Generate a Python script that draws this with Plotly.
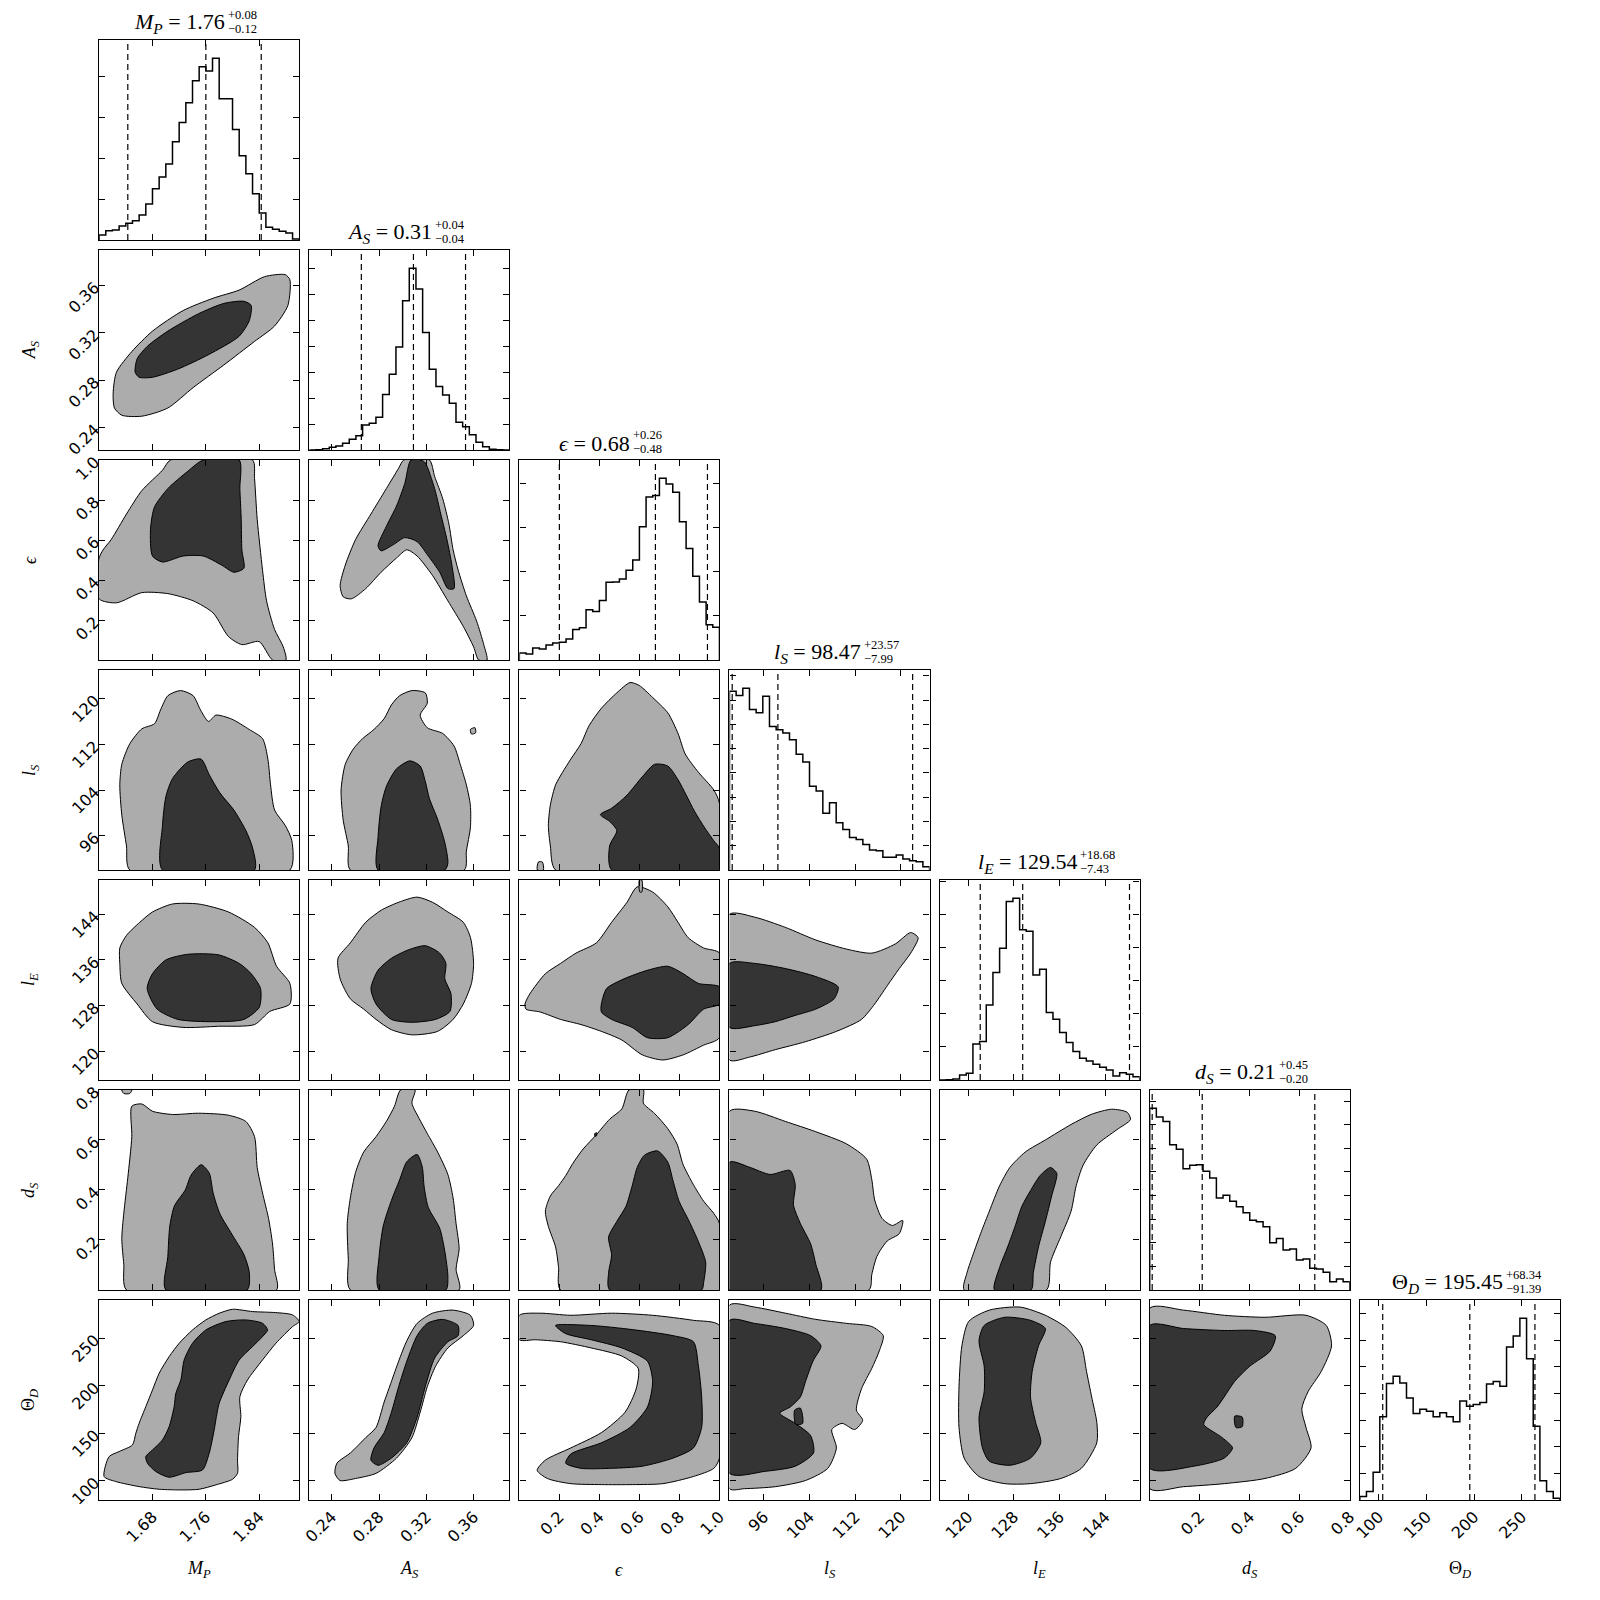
import numpy as np
import plotly.graph_objects as go

# ---------------- parameters ----------------
label_html = ["<i>M</i><sub><i>P</i></sub>", "<i>A</i><sub><i>S</i></sub>", "<i>ϵ</i>",
              "<i>l</i><sub><i>S</i></sub>", "<i>l</i><sub><i>E</i></sub>",
              "<i>d</i><sub><i>S</i></sub>", "Θ<sub><i>D</i></sub>"]
axis_lo = [1.60, 0.221, 0.0, 90.0, 115.0, 0.0, 80.0]
axis_hi = [1.90, 0.390, 1.0, 125.0, 150.0, 0.8, 290.0]

tick_MP = [1.68, 1.76, 1.84]
tick_AS = [0.24, 0.28, 0.32, 0.36]
tick_eps = [0.2, 0.4, 0.6, 0.8, 1.0]
tick_lS = [96, 104, 112, 120]
tick_lE = [120, 128, 136, 144]
tick_dS = [0.2, 0.4, 0.6, 0.8]
tick_TD = [100, 150, 200, 250]
tick_lab_MP = ["1.68", "1.76", "1.84"]
tick_lab_AS = ["0.24", "0.28", "0.32", "0.36"]
tick_lab_eps = ["0.2", "0.4", "0.6", "0.8", "1.0"]
tick_lab_lS = ["96", "104", "112", "120"]
tick_lab_lE = ["120", "128", "136", "144"]
tick_lab_dS = ["0.2", "0.4", "0.6", "0.8"]
tick_lab_TD = ["100", "150", "200", "250"]

median_txt = ["1.76", "0.31", "0.68", "98.47", "129.54", "0.21", "195.45"]
plus_txt = ["0.08", "0.04", "0.26", "23.57", "18.68", "0.45", "68.34"]
minus_txt = ["0.12", "0.04", "0.48", "7.99", "7.43", "0.20", "91.39"]
q16 = [1.643, 0.265, 0.20, 90.48, 122.11, 0.01, 104.06]
q50 = [1.760, 0.309, 0.68, 98.47, 129.54, 0.21, 195.45]
q84 = [1.843, 0.353, 0.94, 122.04, 148.22, 0.66, 263.79]

# histogram counts (30 bins across each axis range)
hist_MP = [15, 28, 30, 42, 50, 58, 75, 108, 153, 188, 227, 294, 351, 410, 476, 518, 505, 543, 422, 422,
           330, 252, 198, 138, 81, 38, 32, 26, 21, 3]
hist_AS = [0, 1, 4, 8, 12, 20, 32, 43, 75, 80, 98, 166, 227, 308, 447, 544, 482, 352, 242, 190,
           165, 140, 83, 70, 46, 23, 10, 2, 1, 0]
hist_eps = [21, 18, 36, 33, 45, 51, 53, 63, 91, 96, 150, 145, 178, 232, 233, 242, 268, 299, 398, 487,
            491, 543, 526, 501, 413, 333, 250, 173, 105, 98]
hist_lS = [538, 525, 547, 483, 473, 523, 432, 422, 412, 392, 348, 325, 252, 238, 171, 202, 142, 122, 98, 92,
           77, 60, 58, 38, 38, 45, 33, 28, 25, 10]
hist_lE = [0, 1, 3, 15, 20, 108, 115, 225, 322, 395, 535, 545, 450, 446, 315, 332, 202, 182, 142, 112,
           85, 65, 57, 47, 38, 30, 12, 22, 17, 10]
hist_dS = [547, 520, 507, 437, 423, 365, 375, 377, 357, 337, 277, 285, 267, 250, 232, 210, 205, 190, 142, 155,
           120, 123, 90, 93, 65, 63, 53, 25, 33, 25]
hist_TD = [10, 25, 83, 250, 350, 372, 352, 307, 260, 273, 267, 250, 262, 250, 235, 298, 282, 287, 293, 349,
           356, 342, 460, 493, 547, 425, 222, 58, 25, 5]
hist_tick_step = [122, 77.5, 132, 73, 99, 71, 80]

# ---------------- 2-D credible regions (outer = 2 sigma, inner = 1 sigma) ----------------
MP_AS_outer = [(1.621, 0.269), (1.623, 0.2565), (1.634, 0.2504), (1.664, 0.2496), (1.703, 0.2565), (1.741, 0.2738),
               (1.787, 0.2929), (1.833, 0.3128), (1.863, 0.3258), (1.883, 0.3432), (1.886, 0.3649), (1.879, 0.3692),
               (1.848, 0.3675), (1.810, 0.3562), (1.771, 0.3493), (1.726, 0.3389), (1.680, 0.3215), (1.649, 0.3042),
               (1.626, 0.2868)]
MP_AS_inner = [(1.654, 0.2868), (1.660, 0.2825), (1.680, 0.2825), (1.718, 0.2894), (1.764, 0.3016), (1.810, 0.3172),
               (1.825, 0.3302), (1.828, 0.3432), (1.817, 0.3467), (1.787, 0.3449), (1.749, 0.3362), (1.703, 0.3215),
               (1.672, 0.3085), (1.657, 0.2981)]

MP_eps_outer = [(1.600, 0.510), (1.600, 0.306), (1.626, 0.286), (1.664, 0.337), (1.703, 0.332), (1.741, 0.296),
                (1.771, 0.235), (1.794, 0.117), (1.814, 0.077), (1.840, 0.092), (1.860, 0.0), (1.880, 0.0),
                (1.876, 0.066), (1.863, 0.153), (1.851, 0.296), (1.845, 0.449), (1.837, 0.704), (1.833, 0.908),
                (1.830, 1.0), (1.707, 1.0), (1.695, 0.949), (1.664, 0.847), (1.641, 0.730), (1.618, 0.602),
                (1.606, 0.551)]
MP_eps_inner = [(1.756, 1.0), (1.810, 1.0), (1.811, 0.857), (1.813, 0.704), (1.814, 0.551), (1.817, 0.459),
                (1.802, 0.439), (1.784, 0.474), (1.756, 0.520), (1.726, 0.520), (1.695, 0.490), (1.680, 0.520),
                (1.677, 0.653), (1.683, 0.765), (1.703, 0.857), (1.733, 0.944)]

MP_lS_outer = [(1.646, 90.0), (1.641, 94.2), (1.634, 99.6), (1.631, 104.9), (1.634, 108.5), (1.646, 112.1),
               (1.664, 114.7), (1.683, 115.6), (1.692, 118.0), (1.703, 120.5), (1.722, 121.4), (1.741, 120.5),
               (1.752, 118.0), (1.764, 116.0), (1.775, 117.1), (1.799, 116.4), (1.825, 114.6), (1.845, 113.0),
               (1.853, 109.4), (1.857, 104.9), (1.863, 100.5), (1.879, 97.8), (1.889, 95.1), (1.886, 90.0)]
MP_lS_inner = [(1.695, 90.0), (1.695, 97.8), (1.700, 102.8), (1.710, 106.0), (1.733, 108.9), (1.753, 109.4),
               (1.765, 106.7), (1.781, 103.5), (1.802, 100.5), (1.820, 96.9), (1.830, 93.9), (1.833, 90.0)]

MP_lE_outer = [(1.631, 135.4), (1.634, 131.9), (1.657, 128.3), (1.680, 125.2), (1.726, 124.2), (1.779, 124.4),
               (1.833, 124.7), (1.856, 127.0), (1.886, 128.3), (1.886, 131.9), (1.866, 134.9), (1.853, 139.0),
               (1.833, 141.7), (1.794, 144.4), (1.749, 145.8), (1.710, 145.8), (1.680, 144.4), (1.661, 142.6),
               (1.641, 140.3), (1.631, 138.1)]
MP_lE_inner = [(1.672, 131.0), (1.687, 127.4), (1.718, 125.6), (1.771, 125.2), (1.817, 125.6), (1.840, 127.7),
               (1.842, 131.0), (1.828, 133.6), (1.810, 135.4), (1.779, 136.9), (1.733, 137.0), (1.700, 136.0),
               (1.680, 133.6)]

MP_dS_outer = [(1.641, 0.0), (1.637, 0.103), (1.634, 0.205), (1.637, 0.307), (1.643, 0.449), (1.649, 0.613),
               (1.649, 0.735), (1.664, 0.744), (1.680, 0.715), (1.710, 0.702), (1.749, 0.707), (1.794, 0.699),
               (1.820, 0.674), (1.833, 0.613), (1.837, 0.490), (1.845, 0.388), (1.854, 0.286), (1.860, 0.184),
               (1.863, 0.082), (1.866, 0.0)]
MP_dS_inner = [(1.700, 0.0), (1.703, 0.133), (1.706, 0.256), (1.713, 0.337), (1.729, 0.399), (1.738, 0.460),
               (1.753, 0.501), (1.765, 0.468), (1.771, 0.387), (1.781, 0.305), (1.799, 0.223), (1.817, 0.142),
               (1.825, 0.072), (1.822, 0.0)]
MP_dS_island = [(1.634, 0.8), (1.649, 0.8), (1.646, 0.786), (1.637, 0.786)]

MP_TD_outer = [(1.6075, 104.5), (1.615, 125.5), (1.630, 130.8), (1.650, 137.8), (1.655, 150.0), (1.660, 160.5),
               (1.670, 178.0), (1.680, 195.5), (1.690, 213.0), (1.705, 230.5), (1.720, 244.5), (1.740, 258.5),
               (1.760, 269.0), (1.780, 276.0), (1.800, 280.2), (1.830, 277.8), (1.865, 276.7), (1.890, 274.3),
               (1.900, 267.3), (1.890, 262.0), (1.865, 244.5), (1.845, 227.0), (1.8225, 206.0), (1.811, 188.5),
               (1.8125, 167.5), (1.809, 146.5), (1.8075, 122.0), (1.8075, 108.0), (1.800, 101.7), (1.775, 95.8),
               (1.750, 91.2), (1.725, 90.5), (1.690, 91.2), (1.660, 94.0), (1.625, 99.3)]
MP_TD_inner = [(1.6725, 118.5), (1.670, 125.5), (1.680, 132.5), (1.695, 143.0), (1.705, 157.0), (1.7125, 178.0),
               (1.715, 192.0), (1.7225, 206.0), (1.7275, 227.0), (1.740, 244.5), (1.760, 258.5), (1.790, 267.3),
               (1.820, 269.0), (1.845, 265.5), (1.8525, 258.5), (1.845, 251.5), (1.830, 241.0), (1.810, 227.0),
               (1.795, 206.0), (1.780, 181.5), (1.775, 164.0), (1.7725, 153.5), (1.765, 129.0), (1.755, 111.5),
               (1.730, 108.7), (1.705, 103.8), (1.685, 109.8)]

AS_eps_outer = [(0.3008, 1.0), (0.2965, 0.959), (0.2861, 0.857), (0.2731, 0.730), (0.2601, 0.602), (0.2514, 0.474),
                (0.2471, 0.372), (0.2497, 0.316), (0.2566, 0.306), (0.2687, 0.357), (0.2817, 0.439), (0.2947, 0.510),
                (0.3034, 0.551), (0.3121, 0.520), (0.3251, 0.423), (0.3381, 0.296), (0.3511, 0.168), (0.3598, 0.066),
                (0.3641, 0.0), (0.3711, 0.0), (0.3684, 0.077), (0.3624, 0.194), (0.3537, 0.321), (0.3468, 0.449),
                (0.3425, 0.551), (0.3390, 0.679), (0.3338, 0.806), (0.3269, 0.918), (0.3225, 1.0)]
AS_eps_inner = [(0.3069, 1.0), (0.3017, 0.883), (0.2947, 0.770), (0.2861, 0.668), (0.2791, 0.571), (0.2817, 0.546),
                (0.2921, 0.577), (0.3017, 0.612), (0.3121, 0.592), (0.3208, 0.526), (0.3312, 0.439), (0.3381, 0.357),
                (0.3433, 0.357), (0.3415, 0.474), (0.3373, 0.602), (0.3321, 0.730), (0.3269, 0.857), (0.3191, 0.985),
                (0.3156, 1.0)]

AS_lS_outer = [(0.2557, 90.0), (0.2540, 94.2), (0.2497, 98.7), (0.2479, 104.0), (0.2514, 108.5), (0.2583, 111.2),
               (0.2661, 113.0), (0.2757, 114.6), (0.2843, 116.5), (0.2904, 118.9), (0.2973, 120.5), (0.3077, 121.4),
               (0.3190, 121.0), (0.3207, 119.2), (0.3147, 117.1), (0.3207, 114.9), (0.3337, 113.9), (0.3433, 111.7),
               (0.3485, 108.5), (0.3537, 104.9), (0.3571, 101.3), (0.3571, 97.4), (0.3537, 93.3), (0.3520, 90.0)]
AS_lS_inner = [(0.2791, 90.0), (0.2791, 95.7), (0.2817, 101.1), (0.2861, 104.6), (0.2947, 107.7), (0.3060, 109.1),
               (0.3147, 108.2), (0.3190, 105.5), (0.3225, 102.5), (0.3294, 98.9), (0.3355, 94.8), (0.3381, 91.2),
               (0.3355, 90.0)]
AS_lS_island = [(0.3571, 114.6), (0.3610, 114.9), (0.3615, 114.0), (0.3580, 113.8)]

AS_lE_outer = [(0.2471, 132.7), (0.2453, 136.3), (0.2557, 139.0), (0.2687, 142.6), (0.2817, 144.7), (0.2965, 146.1),
               (0.3121, 147.0), (0.3251, 146.1), (0.3381, 144.4), (0.3511, 142.6), (0.3572, 139.9), (0.3598, 135.4),
               (0.3580, 131.9), (0.3511, 128.3), (0.3425, 125.6), (0.3294, 123.5), (0.3077, 122.9), (0.2904, 123.8),
               (0.2774, 125.6), (0.2670, 127.4), (0.2557, 129.2)]
AS_lE_inner = [(0.2731, 131.0), (0.2774, 128.3), (0.2904, 125.6), (0.3077, 125.1), (0.3277, 125.6), (0.3398, 127.0),
               (0.3407, 130.1), (0.3355, 132.7), (0.3364, 135.4), (0.3312, 137.2), (0.3190, 138.5), (0.3051, 137.8),
               (0.2904, 136.3), (0.2791, 134.2)]

AS_dS_outer = [(0.2557, 0.0), (0.2540, 0.123), (0.2531, 0.266), (0.2557, 0.368), (0.2601, 0.470), (0.2670, 0.552),
               (0.2774, 0.613), (0.2861, 0.674), (0.2930, 0.735), (0.2982, 0.8), (0.3103, 0.8), (0.3077, 0.748),
               (0.3138, 0.686), (0.3208, 0.625), (0.3294, 0.552), (0.3381, 0.462), (0.3425, 0.368), (0.3450, 0.266),
               (0.3476, 0.164), (0.3450, 0.083), (0.3476, 0.0)]
AS_dS_inner = [(0.2800, 0.0), (0.2800, 0.133), (0.2835, 0.256), (0.2904, 0.358), (0.2973, 0.440), (0.3034, 0.513),
               (0.3121, 0.542), (0.3164, 0.493), (0.3181, 0.411), (0.3216, 0.329), (0.3311, 0.248), (0.3355, 0.154),
               (0.3381, 0.052), (0.3364, 0.0)]

AS_TD_outer = [(0.2427, 107.9), (0.2444, 118.6), (0.2557, 129.3), (0.2687, 145.4), (0.2774, 156.1), (0.2843, 182.9),
               (0.2904, 204.3), (0.2965, 225.7), (0.3034, 247.1), (0.3121, 265.4), (0.3251, 276.1), (0.3424, 279.3),
               (0.3571, 273.9), (0.3598, 263.2), (0.3511, 252.5), (0.3381, 239.6), (0.3277, 220.4), (0.3207, 198.9),
               (0.3147, 172.1), (0.3077, 145.4), (0.2947, 123.9), (0.2774, 107.9), (0.2601, 102.5), (0.2470, 100.4)]
AS_TD_inner = [(0.2731, 121.8), (0.2757, 134.6), (0.2843, 150.7), (0.2904, 172.1), (0.2965, 198.9), (0.3034, 225.7),
               (0.3121, 252.5), (0.3207, 265.4), (0.3337, 269.6), (0.3467, 263.2), (0.3467, 252.5), (0.3381, 246.1),
               (0.3269, 228.9), (0.3190, 198.9), (0.3121, 166.8), (0.3034, 140.0), (0.2904, 123.9), (0.2791, 116.4)]

eps_lS_outer = [(0.181, 90.0), (0.155, 94.2), (0.145, 97.8), (0.155, 101.4), (0.181, 104.9), (0.216, 107.1),
                (0.257, 109.4), (0.308, 112.1), (0.349, 115.3), (0.410, 118.3), (0.487, 121.0), (0.553, 122.8),
                (0.599, 122.3), (0.666, 120.2), (0.742, 117.5), (0.793, 113.9), (0.829, 110.3), (0.895, 107.1),
                (0.972, 104.0), (1.0, 101.7), (1.0, 90.0)]
eps_lS_inner = [(0.461, 90.0), (0.451, 94.2), (0.487, 96.9), (0.451, 98.5), (0.405, 99.7), (0.461, 100.8),
                (0.538, 103.1), (0.614, 106.3), (0.676, 108.5), (0.742, 108.2), (0.793, 105.8), (0.834, 103.1),
                (0.875, 100.3), (0.926, 97.4), (0.972, 95.1), (1.0, 93.8), (1.0, 90.0)]
eps_lS_island = [(0.090, 90.0), (0.095, 91.4), (0.115, 91.4), (0.120, 90.0)]

eps_lE_outer = [(0.028, 128.3), (0.053, 130.1), (0.130, 133.6), (0.206, 135.4), (0.283, 137.2), (0.385, 139.0),
                (0.461, 142.6), (0.538, 146.1), (0.589, 148.8), (0.666, 147.9), (0.742, 145.3), (0.793, 142.6),
                (0.844, 139.9), (0.921, 138.1), (1.0, 137.2), (1.0, 122.4), (0.921, 121.1), (0.819, 119.4),
                (0.717, 118.5), (0.614, 119.4), (0.512, 122.0), (0.410, 123.5), (0.308, 124.7), (0.206, 125.6),
                (0.104, 126.9), (0.033, 127.4)]
eps_lE_inner = [(0.410, 128.3), (0.436, 131.0), (0.523, 132.7), (0.640, 134.2), (0.742, 134.9), (0.819, 133.6),
                (0.895, 131.9), (1.0, 131.3), (1.0, 128.3), (0.921, 127.4), (0.844, 124.7), (0.742, 122.4),
                (0.640, 122.4), (0.564, 124.2), (0.461, 125.6), (0.410, 126.9)]
eps_lE_island = [(0.600, 150.0), (0.612, 150.0), (0.612, 147.9), (0.602, 147.9)]

eps_dS_outer = [(0.206, 0.0), (0.196, 0.090), (0.181, 0.172), (0.145, 0.254), (0.130, 0.315), (0.155, 0.376),
                (0.196, 0.417), (0.232, 0.458), (0.268, 0.507), (0.319, 0.564), (0.385, 0.621), (0.451, 0.683),
                (0.512, 0.724), (0.548, 0.8), (0.620, 0.8), (0.620, 0.747), (0.676, 0.706), (0.742, 0.645),
                (0.788, 0.584), (0.818, 0.502), (0.870, 0.421), (0.921, 0.355), (0.972, 0.306), (1.0, 0.266),
                (1.0, 0.0)]
eps_dS_inner = [(0.451, 0.0), (0.446, 0.069), (0.461, 0.139), (0.446, 0.212), (0.487, 0.274), (0.533, 0.335),
                (0.564, 0.417), (0.589, 0.490), (0.625, 0.539), (0.691, 0.556), (0.742, 0.511), (0.768, 0.437),
                (0.798, 0.355), (0.849, 0.274), (0.895, 0.193), (0.931, 0.111), (0.921, 0.030), (0.911, 0.0)]
eps_dS_island = [(0.376, 0.625), (0.386, 0.629), (0.386, 0.617), (0.378, 0.615)]

eps_TD_outer = [(0.0, 273.9), (0.104, 276.1), (0.257, 273.9), (0.461, 276.1), (0.666, 273.9), (0.870, 268.6),
                (1.0, 263.2), (1.0, 123.9), (0.972, 113.2), (0.870, 104.6), (0.717, 97.1), (0.564, 96.1),
                (0.410, 96.1), (0.257, 97.1), (0.140, 102.5), (0.089, 111.1), (0.130, 121.8), (0.257, 134.6),
                (0.410, 150.7), (0.528, 172.1), (0.584, 196.8), (0.594, 218.2), (0.512, 231.1), (0.359, 239.6),
                (0.206, 246.1), (0.079, 248.2), (0.0, 248.2)]
eps_TD_inner = [(0.181, 263.2), (0.359, 263.2), (0.564, 258.9), (0.768, 252.5), (0.870, 246.1), (0.895, 220.4),
                (0.911, 188.2), (0.911, 156.1), (0.870, 134.6), (0.768, 123.9), (0.614, 115.4), (0.461, 113.2),
                (0.308, 113.2), (0.232, 118.6), (0.257, 128.2), (0.410, 140.0), (0.553, 156.1), (0.640, 177.5),
                (0.666, 204.3), (0.640, 225.7), (0.512, 239.6), (0.359, 248.2), (0.232, 254.6)]

lS_lE_outer = [(90.0, 144.0), (94.4, 143.5), (99.8, 141.7), (105.1, 139.5), (110.5, 137.9), (114.9, 137.2),
               (119.0, 138.8), (121.7, 140.8), (123.0, 139.9), (121.7, 137.2), (119.7, 134.5), (117.6, 131.5),
               (115.4, 128.3), (113.1, 125.6), (108.7, 123.5), (103.3, 121.7), (98.0, 120.3), (93.5, 119.0),
               (90.0, 118.5)]
lS_lE_inner = [(90.0, 135.4), (94.4, 135.4), (99.8, 134.5), (105.1, 133.1), (109.0, 131.3), (108.3, 129.2),
               (105.1, 127.4), (101.5, 126.3), (98.0, 125.2), (94.4, 124.5), (90.0, 124.2)]

lS_dS_outer = [(90.0, 0.715), (94.4, 0.715), (99.8, 0.674), (105.1, 0.633), (110.5, 0.584), (114.0, 0.523),
               (114.9, 0.441), (115.4, 0.360), (116.7, 0.286), (118.5, 0.258), (120.3, 0.278), (119.7, 0.225),
               (117.6, 0.196), (115.8, 0.135), (114.9, 0.062), (114.4, 0.0), (90.0, 0.0)]
lS_dS_inner = [(90.0, 0.511), (93.5, 0.491), (97.1, 0.462), (100.6, 0.478), (101.5, 0.421), (101.2, 0.339),
               (102.4, 0.266), (104.2, 0.184), (105.1, 0.103), (106.0, 0.0), (90.0, 0.0)]

lS_TD_outer = [(90.0, 284.6), (94.4, 282.5), (99.8, 276.1), (105.1, 269.6), (110.5, 265.4), (114.9, 262.1),
               (116.9, 252.5), (116.2, 236.4), (114.9, 218.2), (113.1, 196.8), (112.2, 174.3), (113.3, 163.6),
               (111.9, 153.9), (109.7, 160.4), (107.9, 153.9), (108.7, 134.6), (107.2, 113.2), (103.3, 100.4),
               (98.0, 93.9), (92.6, 91.8), (90.0, 91.8)]
lS_TD_inner = [(90.0, 268.6), (94.4, 265.4), (99.8, 260.0), (104.2, 252.5), (106.0, 241.8), (104.6, 225.7),
               (103.3, 204.3), (102.4, 188.2), (100.6, 177.5), (98.8, 171.1), (101.5, 160.4), (104.2, 147.5),
               (104.7, 129.3), (101.5, 115.4), (96.2, 110.0), (90.0, 107.9)]
lS_TD_island = [(101.4, 174.3), (102.4, 176.4), (102.8, 160.4), (101.6, 159.3)]

lE_dS_outer = [(119.3, 0.0), (119.8, 0.069), (121.0, 0.151), (122.3, 0.233), (123.7, 0.315), (125.5, 0.417),
               (127.3, 0.490), (130.0, 0.552), (133.5, 0.600), (138.0, 0.662), (141.6, 0.703), (145.1, 0.723),
               (147.8, 0.711), (148.4, 0.682), (146.0, 0.641), (142.5, 0.580), (140.1, 0.499), (138.9, 0.417),
               (138.0, 0.315), (136.2, 0.213), (134.4, 0.111), (133.7, 0.0)]
lE_dS_inner = [(124.6, 0.0), (125.5, 0.090), (126.9, 0.172), (128.2, 0.254), (129.4, 0.335), (130.9, 0.397),
               (132.6, 0.458), (134.4, 0.490), (135.5, 0.466), (134.6, 0.376), (133.5, 0.274), (132.3, 0.172),
               (131.4, 0.069), (131.0, 0.0)]

lE_TD_outer = [(119.3, 123.9), (118.4, 156.1), (118.4, 198.9), (118.9, 241.8), (120.1, 267.5), (123.7, 279.3),
               (129.1, 282.5), (133.5, 273.9), (137.1, 261.1), (139.8, 241.8), (140.7, 215.0), (141.6, 188.2),
               (142.5, 161.4), (142.5, 140.0), (139.8, 113.2), (136.2, 102.5), (130.9, 97.1), (126.4, 97.1),
               (121.9, 104.6)]
lE_TD_inner = [(122.5, 134.6), (121.9, 166.8), (122.8, 193.6), (122.8, 220.4), (121.9, 247.1), (122.8, 263.2),
               (126.4, 271.8), (130.9, 268.6), (133.5, 260.0), (132.3, 241.8), (131.2, 215.0), (130.9, 188.2),
               (131.8, 161.4), (132.7, 140.0), (130.9, 123.9), (127.3, 116.4), (123.7, 120.7)]

dS_TD_outer = [(0.0, 281.4), (0.135, 279.3), (0.298, 273.9), (0.461, 271.8), (0.625, 273.9), (0.706, 263.2),
               (0.727, 241.8), (0.686, 215.0), (0.633, 193.6), (0.608, 175.4), (0.625, 156.1), (0.645, 134.6),
               (0.584, 113.2), (0.461, 102.5), (0.298, 97.1), (0.135, 93.9), (0.0, 91.8)]
dS_TD_inner = [(0.0, 263.2), (0.135, 260.0), (0.298, 257.9), (0.420, 257.9), (0.502, 252.5), (0.482, 236.4),
               (0.400, 220.4), (0.339, 204.3), (0.298, 188.2), (0.269, 177.5), (0.229, 166.8), (0.216, 159.3),
               (0.290, 145.4), (0.331, 134.6), (0.298, 123.9), (0.176, 115.4), (0.0, 113.2)]
dS_TD_island = [(0.340, 168.0), (0.370, 167.0), (0.370, 157.0), (0.345, 156.0)]

# table built from the named arrays: (row, col) -> (outer regions, inner regions)
regions = {
    (1, 0): ([MP_AS_outer], [MP_AS_inner]),
    (2, 0): ([MP_eps_outer], [MP_eps_inner]),
    (3, 0): ([MP_lS_outer], [MP_lS_inner]),
    (4, 0): ([MP_lE_outer], [MP_lE_inner]),
    (5, 0): ([MP_dS_outer, MP_dS_island], [MP_dS_inner]),
    (6, 0): ([MP_TD_outer], [MP_TD_inner]),
    (2, 1): ([AS_eps_outer], [AS_eps_inner]),
    (3, 1): ([AS_lS_outer, AS_lS_island], [AS_lS_inner]),
    (4, 1): ([AS_lE_outer], [AS_lE_inner]),
    (5, 1): ([AS_dS_outer], [AS_dS_inner]),
    (6, 1): ([AS_TD_outer], [AS_TD_inner]),
    (3, 2): ([eps_lS_outer, eps_lS_island], [eps_lS_inner]),
    (4, 2): ([eps_lE_outer, eps_lE_island], [eps_lE_inner]),
    (5, 2): ([eps_dS_outer], [eps_dS_inner, eps_dS_island]),
    (6, 2): ([eps_TD_outer], [eps_TD_inner]),
    (4, 3): ([lS_lE_outer], [lS_lE_inner]),
    (5, 3): ([lS_dS_outer], [lS_dS_inner]),
    (6, 3): ([lS_TD_outer], [lS_TD_inner, lS_TD_island]),
    (5, 4): ([lE_dS_outer], [lE_dS_inner]),
    (6, 4): ([lE_TD_outer], [lE_TD_inner]),
    (6, 5): ([dS_TD_outer], [dS_TD_inner, dS_TD_island]),
}
hists = [hist_MP, hist_AS, hist_eps, hist_lS, hist_lE, hist_dS, hist_TD]
ticks = [tick_MP, tick_AS, tick_eps, tick_lS, tick_lE, tick_dS, tick_TD]
tick_labels = [tick_lab_MP, tick_lab_AS, tick_lab_eps, tick_lab_lS, tick_lab_lE, tick_lab_dS, tick_lab_TD]

# ---------------- figure ----------------
N = 7
OFF = 8.0          # default page margin of the browser
FIG = 1584.0       # figure size so that figure + margins fill the 1600 px page
SHRINK = 0.99      # the captured page comes out slightly shrunk about its centre; compensate
LIGHT = "#acacac"
DARK = "#343434"
title_split = [27, 24, 12, 32, 38, 27, 44]


def page(t):
    return 800.0 + (t - 800.0) / SHRINK


def fx(t):
    return (page(t) - OFF) / FIG


def fy(t):
    return 1 - (page(t) - OFF) / FIG


def dom_x(k):
    return [fx(100 + 210 * k), fx(300 + 210 * k)]


def dom_y(r):
    return [fy(241 + 210 * r), fy(41 + 210 * r)]


base_axis = dict(showline=True, linecolor="black", linewidth=1.4, mirror="ticks", ticks="inside",
                 ticklen=6, tickwidth=1, tickcolor="black", showgrid=False, zeroline=False,
                 tickfont=dict(family="DejaVu Sans", size=16, color="black"), tickangle=-45)

fig = go.Figure()
layout = {}
annotations = []
count = 0
for i in range(N):
    for j in range(i + 1):
        count += 1
        sfx = "" if count == 1 else str(count)
        xref, yref = "x" + sfx, "y" + sfx
        xa = dict(base_axis, domain=dom_x(j), anchor=yref, range=[axis_lo[j], axis_hi[j]],
                  tickmode="array", tickvals=ticks[j], ticktext=tick_labels[j], showticklabels=(i == N - 1))
        if i == j:
            counts = hists[i]
            ymax = 1.1 * max(counts)
            ya = dict(base_axis, domain=dom_y(i), anchor=xref, range=[0, ymax], tickmode="linear",
                      tick0=0, dtick=hist_tick_step[i], showticklabels=False)
            edges = np.linspace(axis_lo[i], axis_hi[i], len(counts) + 1)
            hx = [edges[0]] + list(edges[:-1]) + [edges[-1]]
            hy = [0] + list(counts) + [0]
            fig.add_trace(go.Scatter(x=hx, y=hy, mode="lines", line=dict(color="black", width=1.5, shape="hv"),
                                     xaxis=xref, yaxis=yref, showlegend=False, hoverinfo="skip"))
            for q in (q16[i], q50[i], q84[i]):
                fig.add_trace(go.Scatter(x=[q, q], y=[0, ymax], mode="lines",
                                         line=dict(color="black", width=1.2, dash="6px,4px"),
                                         xaxis=xref, yaxis=yref, showlegend=False, hoverinfo="skip"))
            # title: main part, then stacked upper/lower errors
            top = 41 + 210 * i
            split = 200 + 210 * i + title_split[i]
            annotations.append(dict(xref="paper", yref="paper", x=fx(split), y=fy(top - 17),
                                    xanchor="right", yanchor="middle", showarrow=False, borderpad=0,
                                    text=f"{label_html[i]} = {median_txt[i]}",
                                    font=dict(family="Liberation Serif", size=22, color="black")))
            annotations.append(dict(xref="paper", yref="paper", x=fx(split + 1), y=fy(top - 25),
                                    xanchor="left", yanchor="middle", showarrow=False, borderpad=0,
                                    text="+" + plus_txt[i],
                                    font=dict(family="Liberation Serif", size=12.5, color="black")))
            annotations.append(dict(xref="paper", yref="paper", x=fx(split + 1), y=fy(top - 11),
                                    xanchor="left", yanchor="middle", showarrow=False, borderpad=0,
                                    text="\u2212" + minus_txt[i],
                                    font=dict(family="Liberation Serif", size=12.5, color="black")))
        else:
            ya = dict(base_axis, domain=dom_y(i), anchor=xref, range=[axis_lo[i], axis_hi[i]],
                      tickmode="array", tickvals=ticks[i], ticktext=tick_labels[i], showticklabels=(j == 0))
            outer, inner = regions[(i, j)]
            for polys, col in ((outer, LIGHT), (inner, DARK)):
                for poly in polys:
                    px = [p[0] for p in poly] + [poly[0][0]]
                    py = [p[1] for p in poly] + [poly[0][1]]
                    fig.add_trace(go.Scatter(x=px, y=py, mode="lines", fill="toself", fillcolor=col,
                                             line=dict(color="black", width=1, shape="spline", smoothing=0.7),
                                             xaxis=xref, yaxis=yref, showlegend=False, hoverinfo="skip"))
        layout["xaxis" + sfx] = xa
        layout["yaxis" + sfx] = ya

# axis labels
for k in range(N):
    annotations.append(dict(xref="paper", yref="paper", x=fx(200 + 210 * k), y=fy(1571),
                            xanchor="center", yanchor="middle", showarrow=False, text=label_html[k],
                            font=dict(family="Liberation Serif", size=18, color="black")))
for r in range(1, N):
    annotations.append(dict(xref="paper", yref="paper", x=fx(31), y=fy(141 + 210 * r),
                            xanchor="center", yanchor="middle", showarrow=False, text=label_html[r],
                            textangle=-90, font=dict(family="Liberation Serif", size=18, color="black")))

fig.update_layout(width=int(FIG), height=int(FIG), margin=dict(l=0, r=0, t=0, b=0),
                  paper_bgcolor="white", plot_bgcolor="white", showlegend=False,
                  annotations=annotations, **layout)

fig.write_html("out.html", config={"displayModeBar": False})
